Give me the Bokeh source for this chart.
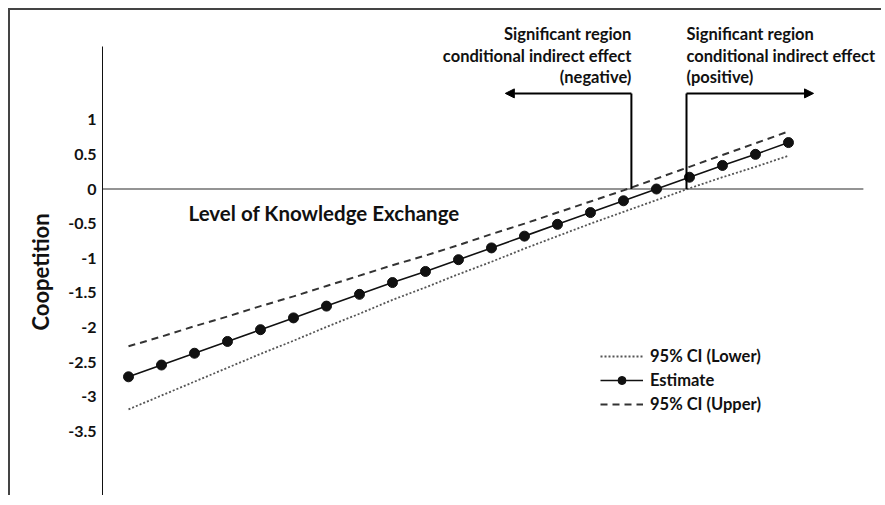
from bokeh.plotting import figure
from bokeh.models import (Range1d, FixedTicker, Label, Arrow, NormalHead,
                          Legend, LegendItem, ColumnDataSource, Title)
from bokeh.embed import file_html
from bokeh.resources import INLINE

# ---- data ----
idx = list(range(21))
estimate = [-2.71, -2.54, -2.37, -2.20, -2.03, -1.86, -1.69, -1.52, -1.35, -1.19,
            -1.02, -0.85, -0.68, -0.51, -0.34, -0.17, 0.00, 0.17, 0.34, 0.50, 0.67]
ci_upper = [-2.27, -2.13, -1.98, -1.84, -1.69, -1.55, -1.40, -1.25, -1.10, -0.96,
            -0.81, -0.65, -0.50, -0.34, -0.18, -0.02, 0.15, 0.32, 0.49, 0.66, 0.83]
ci_lower = [-3.18, -2.98, -2.78, -2.58, -2.38, -2.19, -1.99, -1.80, -1.60, -1.42,
            -1.23, -1.05, -0.86, -0.68, -0.50, -0.33, -0.16, 0.01, 0.17, 0.32, 0.48]
y_ticks = [1, 0.5, 0, -0.5, -1, -1.5, -2, -2.5, -3, -3.5]
y_tick_labels = ["1", "0.5", "0", "-0.5", "-1", "-1.5", "-2", "-2.5", "-3", "-3.5"]

# Johnson-Neyman boundaries (moderator index) and bracket extent
jn_negative = 15.24
jn_positive = 16.91
bracket_top = 1.38
neg_arrow_end = 11.42
pos_arrow_end = 20.76
x_axis_end = 22.27
y_axis_bounds = (-4.423, 2.056)

FONT = "Lato"
INK = "#111"

p = figure(width=873, height=487, output_backend="svg", toolbar_location=None,
           x_range=Range1d(-0.788, 22.88), y_range=Range1d(-4.423, 2.576),
           x_axis_location=None, min_border_left=92, min_border_right=0,
           min_border_top=0, min_border_bottom=2,
           styles={"margin-left": "8px", "margin-top": "8px",
                   "border-top": "2px solid #444", "border-left": "2px solid #444"})
p.outline_line_color = None
p.grid.visible = False
p.background_fill_color = "white"
p.border_fill_color = "white"

ax = p.yaxis[0]
ax.ticker = FixedTicker(ticks=y_ticks)
ax.bounds = y_axis_bounds
ax.major_label_overrides = {t: l for t, l in zip(y_ticks, y_tick_labels)}
ax.major_tick_line_color = None
ax.minor_tick_line_color = None
ax.major_tick_out = 0
ax.major_tick_in = 0
ax.major_label_standoff = 6
ax.major_label_text_font = FONT
ax.major_label_text_font_style = "bold"
ax.major_label_text_font_size = "16px"
ax.major_label_text_color = INK
ax.axis_line_color = INK
ax.axis_line_width = 1

p.add_layout(Title(text="Coopetition", align="left", offset=165, standoff=20,
                   vertical_align="top",
                   text_font=FONT, text_font_style="bold",
                   text_font_size="22px", text_color=INK), "left")

# horizontal zero axis
p.segment(x0=[p.x_range.start], y0=[0], x1=[x_axis_end], y1=[0],
          line_color="#707070", line_width=1.6)

src = ColumnDataSource(dict(x=idx, est=estimate, up=ci_upper, lo=ci_lower))
r_lo = p.line("x", "lo", source=src, line_color="#555555", line_width=1.8,
              line_dash="2 2")
r_est_l = p.line("x", "est", source=src, line_color=INK, line_width=1.6)
r_est_s = p.scatter("x", "est", source=src, size=10, fill_color=INK,
                    line_color=INK)
r_up = p.line("x", "up", source=src, line_color="#333", line_width=2,
              line_dash="7 5")

# significance brackets
p.segment(x0=[jn_negative, jn_positive], y0=[0, 0],
          x1=[jn_negative, jn_positive], y1=[bracket_top, bracket_top],
          line_color="black", line_width=2)
p.add_layout(Arrow(end=NormalHead(size=9, fill_color="black", line_color="black"),
                   x_start=jn_negative, y_start=bracket_top,
                   x_end=neg_arrow_end, y_end=bracket_top,
                   line_color="black", line_width=2))
p.add_layout(Arrow(end=NormalHead(size=9, fill_color="black", line_color="black"),
                   x_start=jn_positive, y_start=bracket_top,
                   x_end=pos_arrow_end, y_end=bracket_top,
                   line_color="black", line_width=2))

neg_lines = ["Significant region", "conditional indirect effect", "(negative)"]
pos_lines = ["Significant region", "conditional indirect effect", "(positive)"]
line_y = [2.244, 1.926, 1.623]
for t, yy in zip(neg_lines, line_y):
    p.add_layout(Label(x=jn_negative, y=yy, text=t, text_align="right",
                       text_baseline="middle", text_font=FONT,
                       text_font_style="bold", text_font_size="16.5px",
                       text_color=INK))
for t, yy in zip(pos_lines, line_y):
    p.add_layout(Label(x=jn_positive, y=yy, text=t, text_align="left",
                       text_baseline="middle", text_font=FONT,
                       text_font_style="bold", text_font_size="16.5px",
                       text_color=INK))

p.add_layout(Label(x=1.82, y=-0.35, text="Level of Knowledge Exchange",
                   text_align="left", text_baseline="middle", text_font=FONT,
                   text_font_style="bold", text_font_size="20.5px",
                   text_color=INK))

legend = Legend(items=[
    LegendItem(label="95% CI (Lower)", renderers=[r_lo]),
    LegendItem(label="Estimate", renderers=[r_est_l, r_est_s]),
    LegendItem(label="95% CI (Upper)", renderers=[r_up]),
], location=(498, 81), background_fill_alpha=0, border_line_color=None,
    padding=0, margin=0, spacing=4, glyph_width=43, glyph_height=20,
    label_height=20, label_standoff=7, label_text_font=FONT,
    label_text_font_style="bold", label_text_font_size="16.5px",
    label_text_color=INK)
p.add_layout(legend, "center")

open("out.html", "w").write(file_html(p, INLINE))
